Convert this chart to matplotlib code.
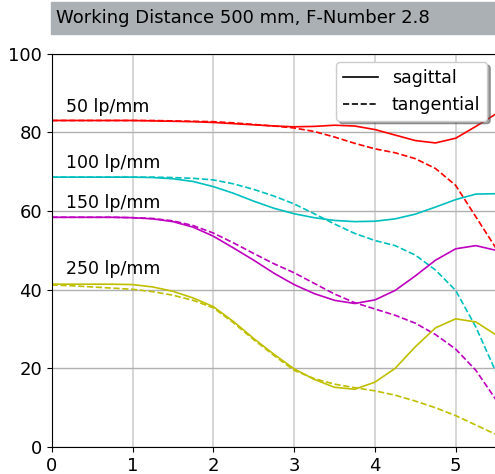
import matplotlib
matplotlib.use("Agg")
import matplotlib.pyplot as plt
from matplotlib.patches import Rectangle

x = [0, 0.25, 0.5, 0.75, 1.0, 1.25, 1.5, 1.75, 2.0, 2.25, 2.5, 2.75, 3.0,
     3.25, 3.5, 3.75, 4.0, 4.25, 4.5, 4.75, 5.0, 5.25, 5.5]

red_s = [83.0, 83.0, 83.0, 83.0, 83.0, 82.9, 82.8, 82.7, 82.5, 82.2, 81.9, 81.6, 81.4,
         81.5, 81.8, 81.6, 80.7, 79.3, 77.9, 77.3, 78.5, 81.5, 84.7]
red_t = [83.0, 83.0, 83.0, 83.0, 83.0, 83.0, 82.9, 82.8, 82.7, 82.4, 82.0, 81.6, 81.1,
         80.2, 78.8, 77.2, 75.8, 74.8, 73.3, 70.8, 66.5, 58.5, 50.5]
cyan_s = [68.6, 68.6, 68.6, 68.6, 68.6, 68.5, 68.2, 67.5, 66.2, 64.5, 62.5, 60.7, 59.3,
          58.3, 57.6, 57.3, 57.4, 58.0, 59.2, 61.0, 62.9, 64.3, 64.4]
cyan_t = [68.6, 68.6, 68.6, 68.6, 68.6, 68.6, 68.5, 68.3, 67.9, 66.9, 65.5, 63.8, 61.8,
          59.3, 56.7, 54.3, 52.5, 51.2, 48.8, 45.0, 39.8, 30.5, 19.0]
mag_s = [58.4, 58.4, 58.4, 58.4, 58.3, 58.0, 57.3, 55.9, 53.6, 50.6, 47.5, 44.2, 41.3,
         39.0, 37.3, 36.5, 37.4, 39.8, 43.5, 47.5, 50.4, 51.2, 50.0]
mag_t = [58.4, 58.4, 58.4, 58.4, 58.3, 58.1, 57.5, 56.3, 54.4, 51.9, 49.2, 46.6, 44.3,
         41.6, 38.9, 36.7, 35.1, 33.5, 31.5, 28.6, 24.9, 19.5, 12.0]
yel_s = [41.4, 41.4, 41.4, 41.4, 41.3, 40.7, 39.6, 37.9, 35.7, 31.9, 27.6, 23.6, 19.9,
         17.2, 15.2, 14.7, 16.5, 20.0, 25.5, 30.3, 32.6, 31.8, 28.5]
yel_t = [41.2, 41.0, 40.7, 40.4, 40.1, 39.5, 38.6, 37.3, 35.4, 31.6, 27.3, 23.3, 19.5,
         17.4, 16.0, 15.1, 14.3, 13.2, 11.7, 10.0, 8.0, 5.6, 3.2]

labels = ["50 lp/mm", "100 lp/mm", "150 lp/mm", "250 lp/mm"]
label_y = [86.4, 72.2, 62.0, 45.3]
colors = ["r", "c", "m", "y"]
sag = [red_s, cyan_s, mag_s, yel_s]
tan = [red_t, cyan_t, mag_t, yel_t]
title = "Working Distance 500 mm, F-Number 2.8"

fig = plt.figure(figsize=(4.95, 4.74), dpi=100)
ax = fig.add_axes([51.7 / 495, 26.9 / 474, 444.4 / 495, 393.5 / 474])

for c, s, t in zip(colors, sag, tan):
    ax.plot(x, s, color=c, lw=1.2, ls="-")
    ax.plot(x, t, color=c, lw=1.2, ls="--")

for lab, ly in zip(labels, label_y):
    ax.text(0.18, ly, lab, fontsize=12.5, va="center", ha="left")

ax.set_xlim(0, 5.5)
ax.set_ylim(0, 100)
ax.set_xticks([0, 1, 2, 3, 4, 5])
ax.set_yticks([0, 20, 40, 60, 80, 100])
ax.tick_params(labelsize=13)
ax.xaxis.grid(True, color="#cfcfcf", lw=1.2)
ax.yaxis.grid(True, color="#b0b0b0", lw=1.0)
ax.set_axisbelow(True)
for sp in ["right"]:
    ax.spines[sp].set_visible(False)

from matplotlib.lines import Line2D
handles = [Line2D([], [], color="k", lw=1.2, ls="-"),
           Line2D([], [], color="k", lw=1.2, ls="--")]
ax.legend(handles, ["sagittal", "tangential"], loc="upper right", fontsize=12.5,
          shadow=True, fancybox=True, framealpha=1.0)

fig.patches.append(Rectangle((50.7 / 495, (474 - 34) / 474), 1.0, 31.7 / 474,
                             transform=fig.transFigure, color="#aab0b3", zorder=0))
fig.text(56 / 495, (474 - 18) / 474, title, fontsize=13, va="center", ha="left")

fig.savefig("out.png", dpi=100)
